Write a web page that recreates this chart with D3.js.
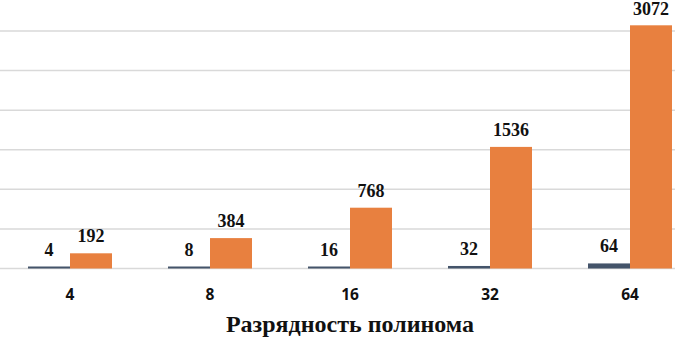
<!DOCTYPE html>
<html>
<head>
<meta charset="utf-8">
<script src="https://cdn.jsdelivr.net/npm/d3@7"></script>
<style>
  body { margin: 0; background: #fff; }
</style>
</head>
<body>
<div id="chart"></div>
<script>
// данные
const categories = ["4", "8", "16", "32", "64"];
const seriesNames = ["a", "b"];
const seriesA = [4, 8, 16, 32, 64];
const seriesB = [192, 384, 768, 1536, 3072];
const yTicks = [0, 500, 1000, 1500, 2000, 2500, 3000];
const axisTitle = "Разрядность полинома";

const colors = ["#44546A", "#E8803F"];

const width = 675, height = 340;
const svg = d3.select("#chart").append("svg")
    .attr("width", width)
    .attr("height", height);

// шкалы
const x = d3.scaleBand()
    .domain(categories)
    .range([0, 700])
    .paddingInner(0.4)
    .paddingOuter(0.2);

const xInner = d3.scaleBand()
    .domain(seriesNames)
    .range([0, x.bandwidth()]);

const y = d3.scaleLinear()
    .domain([0, 3000])
    .range([268.5, 31]);

// сетка
svg.append("g")
    .selectAll("line")
    .data(yTicks)
    .enter()
    .append("line")
    .attr("x1", 0)
    .attr("x2", width)
    .attr("y1", d => y(d))
    .attr("y2", d => y(d))
    .attr("stroke", "#d9d9d9")
    .attr("stroke-width", 1.5);

const rows = categories.map((c, i) => ({cat: c, vals: [seriesA[i], seriesB[i]]}));

const groups = svg.selectAll(".grp")
    .data(rows)
    .enter()
    .append("g")
    .attr("class", "grp")
    .attr("transform", d => `translate(${x(d.cat)},0)`);

const bars = groups.selectAll("g.bar")
    .data(d => d.vals.map((v, j) => ({key: seriesNames[j], v: v, j: j})))
    .enter()
    .append("g")
    .attr("class", "bar");

bars.append("rect")
    .attr("x", d => xInner(d.key))
    .attr("width", xInner.bandwidth())
    .attr("y", d => Math.min(y(d.v), y(0) - 2))
    .attr("height", d => Math.max(y(0) - y(d.v), 2))
    .attr("fill", d => colors[d.j]);

// подписи значений
bars.append("text")
    .attr("x", d => xInner(d.key) + xInner.bandwidth() / 2)
    .attr("y", d => Math.max(Math.min(y(d.v), y(0) - 2) - 11, 15))
    .attr("text-anchor", "middle")
    .style("font-family", "'Liberation Serif', 'Times New Roman', serif")
    .style("font-weight", "bold")
    .style("font-size", "18px")
    .attr("fill", "#111")
    .text(d => d.v);

// ось X
svg.append("g")
    .selectAll("text")
    .data(categories)
    .enter()
    .append("text")
    .attr("x", d => x(d) + x.bandwidth() / 2)
    .attr("y", 299.5)
    .attr("text-anchor", "middle")
    .style("font-family", "'Open Sans', sans-serif")
    .style("font-weight", "bold")
    .style("font-size", "15.5px")
    .attr("fill", "#111")
    .text(d => d);

svg.append("text")
    .attr("x", 350)
    .attr("y", 332)
    .attr("text-anchor", "middle")
    .style("font-family", "'Liberation Serif', 'Times New Roman', serif")
    .style("font-weight", "bold")
    .style("font-size", "24px")
    .attr("fill", "#111")
    .text(axisTitle);
</script>
</body>
</html>
